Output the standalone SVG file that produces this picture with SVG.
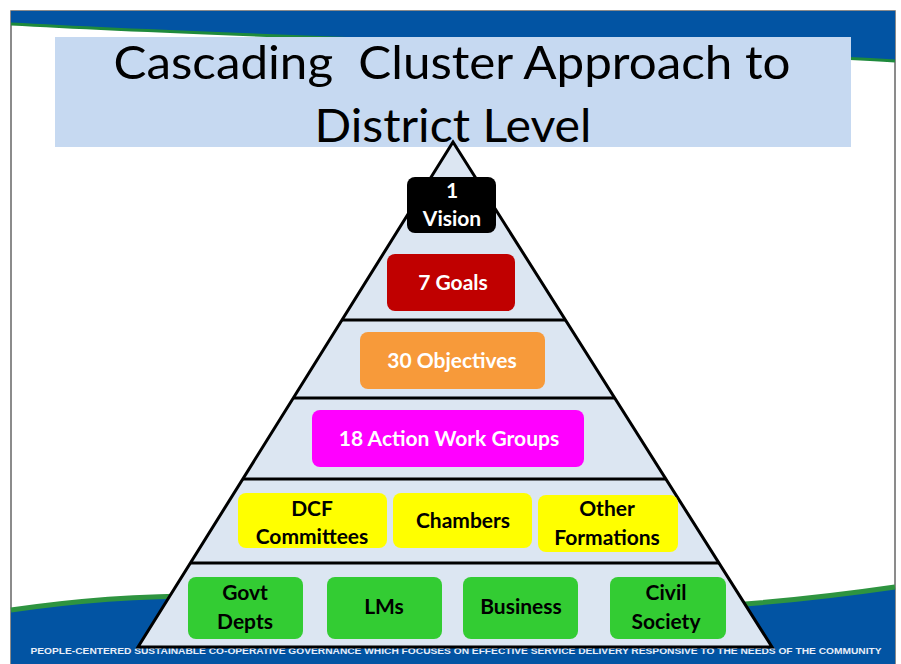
<svg xmlns="http://www.w3.org/2000/svg" width="901" height="664" viewBox="0 0 901 664">
<style>
.box{stroke:none}
.wt{font-family:Lato,"Liberation Sans",sans-serif;font-weight:bold;font-size:21px;fill:#fff;text-anchor:middle}
.bt{font-family:Lato,"Liberation Sans",sans-serif;font-weight:bold;font-size:21px;fill:#000;text-anchor:middle}
.title{font-family:Lato,"Liberation Sans",sans-serif;font-size:47px;fill:#000;text-anchor:middle;white-space:pre}
.div{stroke:#000;stroke-width:3}
</style>
<rect x="0" y="0" width="901" height="664" fill="#fff"/>
<rect x="11" y="11" width="884" height="660" fill="#fff" stroke="#666" stroke-width="1.5"/>
<!-- top band -->
<path d="M11,11 H895 V61 C700,48 300,40 11,24 Z" fill="#0254A3"/>
<path d="M895,61 C700,48 300,40 11,24" fill="none" stroke="#1E8A3C" stroke-width="3"/>
<!-- bottom band -->
<path d="M11,610 C90,598 190,590 330,600 S640,624 895,587 V664 H11 Z" fill="#0254A3"/>
<path d="M11,610 C90,598 190,590 330,600 S640,624 895,587" fill="none" stroke="#2E9440" stroke-width="5"/>
<text x="456" y="654" font-family="'Liberation Sans',sans-serif" font-weight="bold" font-size="9" fill="#E8EEF8" text-anchor="middle" textLength="851" lengthAdjust="spacingAndGlyphs">PEOPLE-CENTERED SUSTAINABLE CO-OPERATIVE GOVERNANCE WHICH FOCUSES ON EFFECTIVE SERVICE DELIVERY RESPONSIVE TO THE NEEDS OF THE COMMUNITY</text>
<!-- title -->
<g id="title">
<rect x="55" y="37" width="796" height="110" fill="#C6D9F1"/>
<text class="title" x="452" y="79" textLength="677" lengthAdjust="spacingAndGlyphs" xml:space="preserve">Cascading  Cluster Approach to</text>
<text class="title" x="453" y="142" textLength="277" lengthAdjust="spacingAndGlyphs">District Level</text>
</g>
<!-- pyramid -->
<g id="pyramid">
<polygon points="453,142 772,647 138,647" fill="#DCE6F2" stroke="#000" stroke-width="3" stroke-linejoin="miter"/>
<line class="div" x1="342" y1="320" x2="565" y2="320"/>
<line class="div" x1="293" y1="398" x2="615" y2="398"/>
<line class="div" x1="243" y1="479" x2="666" y2="479"/>
<line class="div" x1="190" y1="563" x2="719" y2="563"/>
</g>
<g id="vision">
<rect class="box" x="407" y="177" width="89" height="56" rx="8" fill="#000"/>
<text class="wt" x="452" y="198">1</text>
<text class="wt" x="452" y="226">Vision</text>
</g>
<g id="goals">
<rect class="box" x="387" y="254" width="128" height="57" rx="8" fill="#C00000"/>
<text class="wt" x="453" y="290">7 Goals</text>
</g>
<g id="objectives">
<rect class="box" x="360" y="332" width="185" height="57" rx="8" fill="#F79A3A"/>
<text class="wt" x="452" y="368">30 Objectives</text>
</g>
<g id="awg">
<rect class="box" x="312" y="410" width="272" height="57" rx="8" fill="#FF00FF"/>
<text class="wt" x="449" y="446">18 Action Work Groups</text>
</g>
<g id="dcf">
<rect class="box" x="238" y="493" width="149" height="55" rx="8" fill="#FFFF00"/>
<text class="bt" x="312" y="516">DCF</text>
<text class="bt" x="312" y="544">Committees</text>
</g>
<g id="chambers">
<rect class="box" x="393" y="493" width="139" height="55" rx="8" fill="#FFFF00"/>
<text class="bt" x="463" y="528">Chambers</text>
</g>
<g id="other">
<rect class="box" x="538" y="495" width="140" height="57" rx="8" fill="#FFFF00"/>
<text class="bt" x="607" y="516">Other</text>
<text class="bt" x="607" y="545">Formations</text>
</g>
<g id="govt">
<rect class="box" x="188" y="577" width="115" height="62" rx="8" fill="#33CC33"/>
<text class="bt" x="245" y="600">Govt</text>
<text class="bt" x="245" y="629">Depts</text>
</g>
<g id="lms">
<rect class="box" x="327" y="577" width="115" height="62" rx="8" fill="#33CC33"/>
<text class="bt" x="384" y="614">LMs</text>
</g>
<g id="business">
<rect class="box" x="463" y="577" width="115" height="62" rx="8" fill="#33CC33"/>
<text class="bt" x="521" y="614">Business</text>
</g>
<g id="civil">
<rect class="box" x="610" y="577" width="116" height="62" rx="8" fill="#33CC33"/>
<text class="bt" x="666" y="600">Civil</text>
<text class="bt" x="666" y="629">Society</text>
</g>
<g id="connectors"/>
</svg>
